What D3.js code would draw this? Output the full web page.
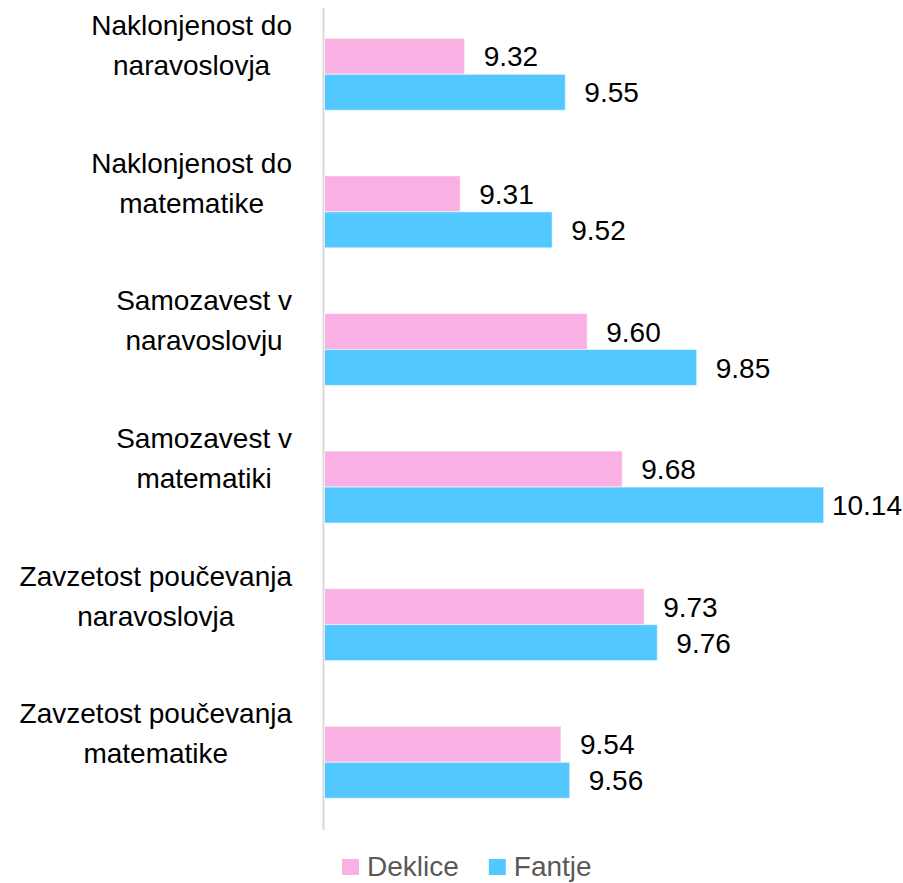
<!DOCTYPE html>
<html>
<head>
<meta charset="utf-8">
<script src="https://cdn.jsdelivr.net/npm/d3@7"></script>
<style>
  body { margin: 0; background: #fff; }
  svg { display: block; font-family: "Liberation Sans", Arial, sans-serif; }
</style>
</head>
<body>
<script>
const categories = [
  ["Naklonjenost do", "naravoslovja"],
  ["Naklonjenost do", "matematike"],
  ["Samozavest v", "naravoslovju"],
  ["Samozavest v", "matematiki"],
  ["Zavzetost poučevanja", "naravoslovja"],
  ["Zavzetost poučevanja", "matematike"]
];
const series = ["Deklice", "Fantje"];
const deklice = [9.32, 9.31, 9.60, 9.68, 9.73, 9.54];
const fantje = [9.55, 9.52, 9.85, 10.14, 9.76, 9.56];
const colors = ["#f9b0e3", "#53c8ff"];

const width = 903;
const height = 883;
const fontSize = 28;

const rows = categories.map((c, i) => ({ key: i, lines: c, values: [deklice[i], fantje[i]] }));

const svg = d3.select("body")
  .append("svg")
  .attr("width", width)
  .attr("height", height)
  .attr("viewBox", [0, 0, width, height]);

const x = d3.scaleLinear([9, 10.2], [324.5, 850]);

const y = d3.scaleBand(d3.range(categories.length), [8, 828.5])
  .paddingInner(0.477)
  .paddingOuter(0.22);

const ySub = d3.scaleBand(series, [0, y.bandwidth()]);

// axis line
svg.append("line")
  .attr("x1", 323.5).attr("x2", 323.5)
  .attr("y1", 8).attr("y2", 830)
  .attr("stroke", "#d9d9d9")
  .attr("stroke-width", 2);

const groups = svg.append("g")
  .selectAll("g")
  .data(rows)
  .join("g")
  .attr("transform", d => `translate(0,${y(d.key)})`);

groups.selectAll("rect")
  .data(d => d.values.map((v, j) => ({ s: series[j], v, j })))
  .join("rect")
  .attr("x", x(9))
  .attr("y", d => ySub(d.s))
  .attr("width", d => x(d.v) - x(9))
  .attr("height", ySub.bandwidth())
  .attr("fill", d => colors[d.j])
  .attr("stroke", "#fff")
  .attr("stroke-opacity", 0.6)
  .attr("stroke-width", 1);

groups.selectAll("text.value")
  .data(d => d.values.map((v, j) => ({ s: series[j], v, j })))
  .join("text")
  .attr("class", "value")
  .attr("x", d => x(d.v) + 19)
  .attr("y", d => ySub(d.s) + ySub.bandwidth() / 2)
  .attr("dy", "0.36em")
  .attr("font-size", fontSize)
  .attr("fill", "#000")
  .text(d => d3.format(".2f")(d.v))
  .each(function () {
    const w = this.getComputedTextLength();
    const x0 = +this.getAttribute("x");
    if (x0 + w > width - 1) this.setAttribute("x", width - 1 - w);
  });

// category labels: block right edge at 292, lines centered within block
const catLabels = groups.append("text")
  .attr("font-size", fontSize)
  .attr("fill", "#000")
  .attr("text-anchor", "middle");

catLabels.selectAll("tspan")
  .data(d => d.lines)
  .join("tspan")
  .attr("y", (d, i) => i === 0 ? -3 : 37)
  .text(d => d);

catLabels.each(function () {
  const spans = d3.select(this).selectAll("tspan").nodes();
  const w = d3.max(spans, s => s.getComputedTextLength());
  d3.select(this).selectAll("tspan").attr("x", 292 - w / 2);
});

// legend
const legend = svg.append("g").attr("transform", "translate(342,859)");
let lx = 0;
series.forEach((s, i) => {
  legend.append("rect")
    .attr("x", lx).attr("y", 0)
    .attr("width", 17).attr("height", 16)
    .attr("fill", colors[i]);
  const t = legend.append("text")
    .attr("x", lx + 25)
    .attr("y", 17)
    .attr("font-size", fontSize)
    .attr("fill", "#595959")
    .text(s);
  lx += 25 + t.node().getComputedTextLength() + 30;
});
</script>
</body>
</html>
